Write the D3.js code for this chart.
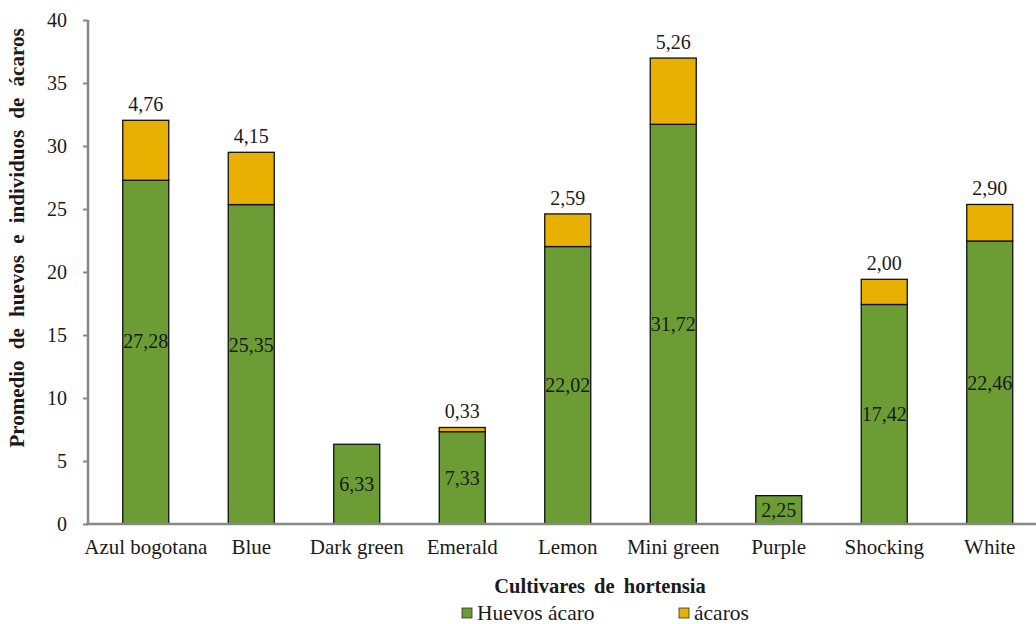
<!DOCTYPE html>
<html><head><meta charset="utf-8">
<script src="https://cdn.jsdelivr.net/npm/d3@7"></script>
<style>body{margin:0;background:#fff}svg text{font-family:"Liberation Serif","Times New Roman",Times,serif !important;fill:#1a1a1a}</style>
</head><body>
<svg id="c" width="1036" height="624"></svg>
<script>
const categories = ["Azul bogotana","Blue","Dark green","Emerald","Lemon","Mini green","Purple","Shocking","White"];
const huevos = [27.28,25.35,6.33,7.33,22.02,31.72,2.25,17.42,22.46];
const acaros = [4.76,4.15,0,0.33,2.59,5.26,0,2.00,2.90];
const yTicks = [0,5,10,15,20,25,30,35,40];
const seriesNames = ["Huevos ácaro","ácaros"];
const colors = ["#6b9d34","#e8b000"];

const svg = d3.select("#c");
const fmt = v => v.toFixed(2).replace(".", ",");
const y = d3.scaleLinear().domain([0,40]).range([524,20]);
const x = d3.scaleBand().domain(categories).range([93,1042.5]).paddingInner(0.564).paddingOuter(0.282);
// manual label nudges seen in the original (pixels)
const labelNudge = {"Azul bogotana": -11, "Blue": -19};

// y axis
const ya = svg.append("g").attr("transform","translate(88,0)")
  .call(d3.axisLeft(y).tickValues(yTicks).tickSize(5).tickPadding(16).tickFormat(d=>d));
ya.attr("font-family",null);
ya.select(".domain").attr("stroke","#888").attr("stroke-width",2.5).attr("d","M0,20V524");
ya.selectAll(".tick line").attr("stroke","#888").attr("stroke-width",2);
ya.selectAll(".tick text").style("font-size","20px").attr("dy","0.34em").attr("fill","#1a1a1a");

// bars
const g = svg.append("g");
categories.forEach((c,i)=>{
  const bx = x(c), bw = x.bandwidth();
  g.append("rect").attr("x",bx).attr("y",y(huevos[i])).attr("width",bw).attr("height",y(0)-y(huevos[i]))
    .attr("fill",colors[0]).attr("stroke","#111").attr("stroke-width",1.3);
  if(acaros[i]>0){
    g.append("rect").attr("x",bx).attr("y",y(huevos[i]+acaros[i])).attr("width",bw).attr("height",y(huevos[i])-y(huevos[i]+acaros[i]))
      .attr("fill",colors[1]).attr("stroke","#111").attr("stroke-width",1.3);
    g.append("text").attr("x",bx+bw/2).attr("y",y(huevos[i]+acaros[i])-9).attr("text-anchor","middle")
      .style("font-size","20px").text(fmt(acaros[i]));
  }
  g.append("text").attr("x",bx+bw/2).attr("y",(y(0)+y(huevos[i]))/2+7+(labelNudge[c]||0)).attr("text-anchor","middle")
    .style("font-size","20px").text(fmt(huevos[i]));
});

// x axis
const xa = svg.append("g").attr("transform","translate(0,524)")
  .call(d3.axisBottom(x).tickSize(0).tickPadding(15));
xa.attr("font-family",null);
xa.select(".domain").attr("stroke","#888").attr("stroke-width",2.5).attr("d","M86,0H1036");
xa.selectAll(".tick text").style("font-size","21px").attr("fill","#1a1a1a");

// titles
svg.append("text").attr("x",600).attr("y",593).attr("text-anchor","middle")
  .style("font-size","20.5px").style("font-weight","bold").style("word-spacing","4px").text("Cultivares de hortensia");
svg.append("text").attr("transform","translate(24,238) rotate(-90)").attr("text-anchor","middle")
  .style("font-size","21px").style("font-weight","bold").style("word-spacing","6px").text("Promedio de huevos e individuos de ácaros");

// legend
const lx = [462,679];
seriesNames.forEach((n,i)=>{
  svg.append("rect").attr("x",lx[i]).attr("y",608).attr("width",10).attr("height",10)
    .attr("fill",colors[i]).attr("stroke","#333").attr("stroke-width",0.8);
  svg.append("text").attr("x",lx[i]+15).attr("y",620).style("font-size","21.5px").text(n);
});
</script>
</body></html>
